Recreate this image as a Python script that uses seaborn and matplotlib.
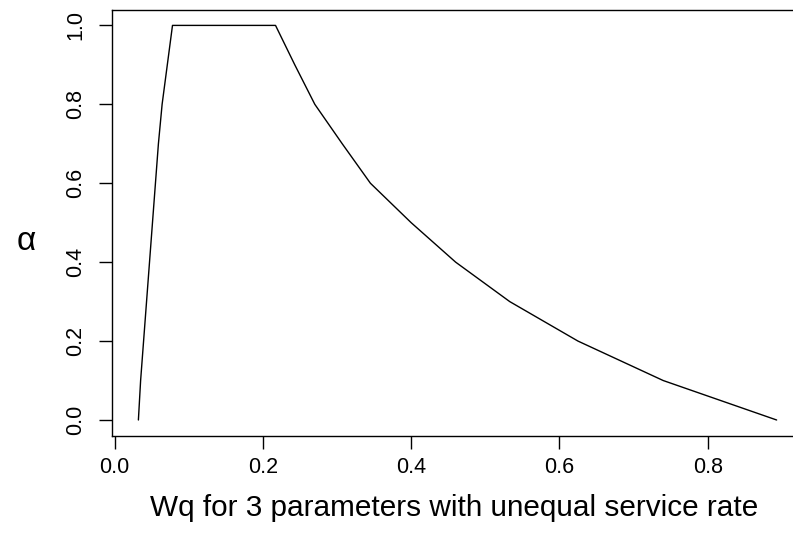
import matplotlib
matplotlib.use("Agg")
import matplotlib.pyplot as plt
import seaborn as sns
import pandas as pd

# Data (alpha-cut membership curve)
wq = [0.032, 0.035, 0.039, 0.043, 0.047, 0.051, 0.055, 0.059, 0.064, 0.071, 0.078,
      0.217, 0.243, 0.270, 0.307, 0.345, 0.400, 0.460, 0.533, 0.625, 0.740, 0.893]
alpha = [0.0, 0.1, 0.2, 0.3, 0.4, 0.5, 0.6, 0.7, 0.8, 0.9, 1.0,
         1.0, 0.9, 0.8, 0.7, 0.6, 0.5, 0.4, 0.3, 0.2, 0.1, 0.0]
x_ticks = [0.0, 0.2, 0.4, 0.6, 0.8]
x_tick_labels = ["0.0", "0.2", "0.4", "0.6", "0.8"]
y_ticks = [0.0, 0.2, 0.4, 0.6, 0.8, 1.0]
y_tick_labels = ["0.0", "0.2", "0.4", "0.6", "0.8", "1.0"]
x_label = "Wq for 3 parameters with unequal service rate"
y_label = "\u03b1"

df = pd.DataFrame({"wq": wq, "alpha": alpha})

sns.set_theme(style="white")
plt.rcParams["font.family"] = ["Liberation Sans", "DejaVu Sans"]

W, H = 793, 538
fig = plt.figure(figsize=(W / 100, H / 100), dpi=100)
fig.patch.set_facecolor("white")

left_px, right_px, top_px, bottom_px = 112.3, 802.5, 9.5, 435.7
ax = fig.add_axes([left_px / W, (H - bottom_px) / H,
                   (right_px - left_px) / W, (bottom_px - top_px) / H])

sns.lineplot(data=df, x="wq", y="alpha", ax=ax, color="black", linewidth=1.0,
             estimator=None, sort=False)

ax.set_xlim(-0.0032, 0.9279)
ax.set_ylim(-0.0398, 1.0403)

ax.set_xticks(x_ticks)
ax.set_xticklabels(x_tick_labels, fontsize=15.5)
ax.set_yticks(y_ticks)
ax.set_yticklabels(y_tick_labels, fontsize=15.5, rotation=90, va="center")

ax.tick_params(axis="both", which="major", direction="out", length=9.5, width=1.0,
               color="black", labelcolor="black", bottom=True, left=True)
ax.tick_params(axis="x", pad=6)
ax.tick_params(axis="y", pad=9)

for name, s in ax.spines.items():
    s.set_visible(name != "right")
    s.set_color("black")
    s.set_linewidth(1.0)

ax.set_xlabel("")
ax.set_ylabel("")
ax.grid(False)
ax.set_facecolor("white")

fig.text(454 / W, (H - 508) / H, x_label, ha="center", va="center",
         fontsize=21.4, color="black")
fig.text(26 / W, (H - 241) / H, y_label, ha="center", va="center",
         fontsize=24, color="black")

fig.savefig("out.png", dpi=100, facecolor="white")
